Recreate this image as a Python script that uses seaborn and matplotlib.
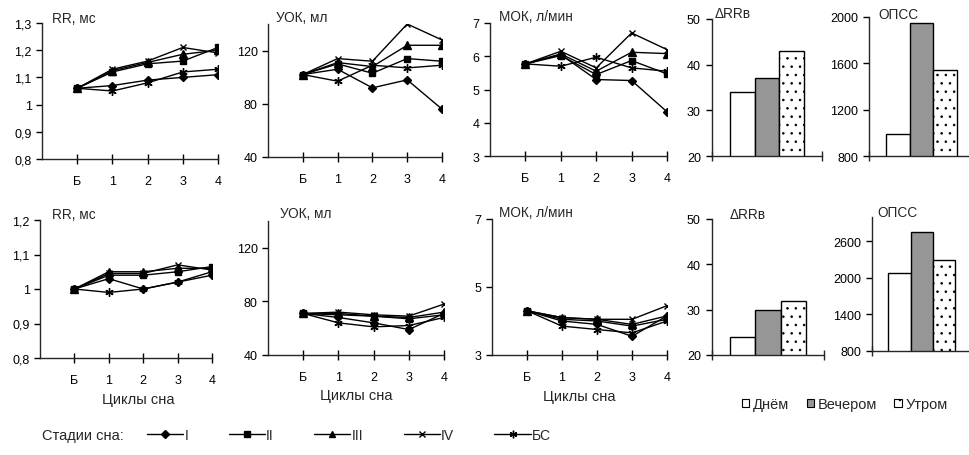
import numpy as np
import pandas as pd
import matplotlib
matplotlib.use("Agg")
import matplotlib.pyplot as plt
from matplotlib.lines import Line2D
from matplotlib.patches import Patch
from matplotlib.ticker import FuncFormatter
import matplotlib.transforms as mtransforms
import seaborn as sns

# ---- data -------------------------------------------------------------
cycles = ["Б", "1", "2", "3", "4"]
stages = ["I", "II", "III", "IV", "БС"]

# rows follow the order of `stages`
rr_1 = [[1.06, 1.07, 1.09, 1.10, 1.11],
        [1.06, 1.12, 1.15, 1.16, 1.21],
        [1.06, 1.125, 1.155, 1.185, 1.20],
        [1.06, 1.13, 1.16, 1.21, 1.19],
        [1.06, 1.05, 1.08, 1.12, 1.13]]
sv_1 = [[102, 106, 92, 98, 76],
        [102, 110, 103, 114, 112],
        [102, 111, 108, 124, 124],
        [102, 114, 112, 140, 128],
        [102, 97, 109, 107, 109]]
co_1 = [[5.77, 6.05, 5.30, 5.27, 4.33],
        [5.77, 6.02, 5.45, 5.87, 5.47],
        [5.77, 6.07, 5.55, 6.12, 6.08],
        [5.77, 6.15, 5.65, 6.70, 6.20],
        [5.77, 5.70, 5.97, 5.65, 5.55]]

rr_2 = [[1.00, 1.03, 1.00, 1.02, 1.04],
        [1.00, 1.04, 1.04, 1.05, 1.065],
        [1.00, 1.05, 1.05, 1.06, 1.06],
        [1.00, 1.045, 1.045, 1.07, 1.055],
        [1.00, 0.99, 1.00, 1.02, 1.05]]
sv_2 = [[71, 68, 64, 59, 71],
        [71, 70, 69, 67, 70],
        [71, 71, 69, 68, 72],
        [71, 72, 70, 69, 78],
        [71, 64, 61, 62, 68]]
co_2 = [[4.30, 4.00, 3.90, 3.55, 4.15],
        [4.30, 4.05, 4.00, 3.85, 4.05],
        [4.30, 4.10, 4.05, 3.90, 4.15],
        [4.30, 4.10, 4.05, 4.05, 4.45],
        [4.30, 3.85, 3.75, 3.65, 4.00]]

periods = ["Днём", "Вечером", "Утром"]
drr_1 = [34, 37, 43]
tpr_1 = [990, 1950, 1540]
drr_2 = [24, 30, 32]
tpr_2 = [2080, 2750, 2290]

# ---- style ------------------------------------------------------------
sns.set_style("ticks")
plt.rcParams["font.family"] = ["Liberation Sans", "DejaVu Sans"]
plt.rcParams["axes.linewidth"] = 1.0
plt.rcParams["hatch.linewidth"] = 0.6

W, H = 970, 456
fig = plt.figure(figsize=(W / 100, H / 100), dpi=100)


def px_box(l, t, r, b):
    return [l / W, 1 - b / H, (r - l) / W, (b - t) / H]


markers = {"I": "D", "II": "s", "III": "^", "IV": "x", "БС": (6, 2, 0)}
msizes = {"I": 4.5, "II": 5, "III": 5.5, "IV": 5, "БС": 6}
comma = FuncFormatter(lambda v, p: f"{v:g}".replace(".", ","))
TICK_FS = 9
TITLE_FS = 9.8


def title(ax, text, dx, dy):
    tr = mtransforms.offset_copy(ax.transAxes, fig=fig, x=dx, y=dy, units="dots")
    ax.text(0, 1, text, transform=tr, ha="left", va="baseline", fontsize=TITLE_FS)


def line_panel(box, values, ylim, yticks, label, dx, dy, xlabel=None, xlab_x=0.5):
    ax = fig.add_axes(px_box(*box))
    pos = np.arange(len(cycles))
    for stage, vals in zip(stages, values):
        sns.lineplot(x=pos, y=vals, ax=ax, color="black", linewidth=1,
                     marker=markers[stage], markersize=msizes[stage],
                     markeredgecolor="black", markerfacecolor="black",
                     markeredgewidth=1.0)
    ax.set_xlim(-1, len(cycles) - 1)
    ax.set_xticks(pos, cycles)
    ax.set_ylim(*ylim)
    ax.set_yticks(yticks)
    ax.yaxis.set_major_formatter(comma)
    ax.tick_params(axis="x", direction="inout", length=7, width=1, pad=8,
                   labelsize=TICK_FS, colors="black")
    ax.tick_params(axis="y", direction="out", length=4, width=1, pad=3.5,
                   labelsize=TICK_FS, colors="black")
    sns.despine(ax=ax)
    ax.set_xlabel("")
    ax.set_ylabel("")
    title(ax, label, dx, dy)
    if xlabel:
        ax.set_xlabel(xlabel, fontsize=10.5)
        ax.xaxis.set_label_coords(xlab_x, -0.30)
        ax.xaxis.label.set_va("center")
    return ax


bar_colors = ["white", "#969696", "white"]


def bar_panel(box, values, ylim, yticks, label, dx, dy):
    ax = fig.add_axes(px_box(*box))
    df = pd.DataFrame({"g": ["all"] * len(periods), "period": periods, "v": values})
    sns.barplot(data=df, x="g", y="v", hue="period", hue_order=periods,
                palette=dict(zip(periods, bar_colors)), width=0.67, gap=0,
                edgecolor="black", linewidth=1, legend=False, ax=ax,
                saturation=1)
    ax.patches[2].set_hatch("..")
    ax.set_xlim(-0.5, 0.5)
    ax.set_xticks([-0.5, 0.5], ["", ""])
    ax.set_ylim(*ylim)
    ax.set_yticks(yticks)
    ax.tick_params(axis="x", direction="inout", length=7, width=1)
    ax.tick_params(axis="y", direction="out", length=4, width=1, pad=4,
                   labelsize=TICK_FS, colors="black")
    sns.despine(ax=ax)
    ax.set_xlabel("")
    ax.set_ylabel("")
    title(ax, label, dx, dy)
    return ax


# top row
line_panel((42, 24, 218, 160), rr_1, (0.8, 1.3), np.arange(0.8, 1.31, 0.1), "RR, мс", 10, 1)
line_panel((268, 25, 442, 158), sv_1, (40, 140), [40, 80, 120], "УОК, мл", 8, 3)
line_panel((490, 24, 667, 157), co_1, (3, 7), [3, 4, 5, 6, 7], "МОК, л/мин", 9, 3)
bar_panel((712, 20, 822, 157), drr_1, (20, 50), [20, 30, 40, 50], "ΔRRв", 3, 2)
bar_panel((869, 18, 974, 157), tpr_1, (800, 2000), [800, 1200, 1600, 2000], "ОПСС", 9, -1)

# bottom row
line_panel((40, 221, 212, 359), rr_2, (0.8, 1.2), np.arange(0.8, 1.21, 0.1), "RR, мс", 12, 2,
           xlabel="Циклы сна", xlab_x=0.57)
line_panel((268, 222, 444, 356), sv_2, (40, 140), [40, 80, 120], "УОК, мл", 12, 4,
           xlabel="Циклы сна")
line_panel((492, 220, 667, 356), co_2, (3, 7), [3, 5, 7], "МОК, л/мин", 7, 3,
           xlabel="Циклы сна")
bar_panel((712, 220, 824, 356), drr_2, (20, 50), [20, 30, 40, 50], "ΔRRв", 18, 1)
bar_panel((872, 218, 972, 352), tpr_2, (800, 3000), [800, 1400, 2000, 2600], "ОПСС", 5, 1)

# legend for sleep stages
stage_handles = [Line2D([], [], color="black", linewidth=1, marker=markers[s],
                        markersize=msizes[s] - 0.5, markeredgecolor="black",
                        markerfacecolor="black", markeredgewidth=1.0) for s in stages]
fig.text(42 / W, 1 - 436 / H, "Стадии сна:", ha="left", va="center", fontsize=10.5)
fig.legend(stage_handles, stages, loc="center left", bbox_to_anchor=(147 / W, 1 - 436 / H),
           ncol=5, frameon=False, fontsize=10, handlelength=2.6, handletextpad=0.1,
           columnspacing=2.9, borderpad=0, borderaxespad=0, numpoints=1)

# legend for time of day
period_handles = [Patch(facecolor=c, edgecolor="black", linewidth=0.8,
                        hatch=(".." if i == 2 else None))
                  for i, c in enumerate(bar_colors)]
fig.legend(period_handles, periods, loc="center left", bbox_to_anchor=(742 / W, 1 - 405 / H),
           ncol=3, frameon=False, fontsize=10.5, handlelength=0.5, handleheight=0.5,
           handletextpad=0.25, columnspacing=1.2, borderpad=0, borderaxespad=0)

fig.savefig("out.png", dpi=100)
